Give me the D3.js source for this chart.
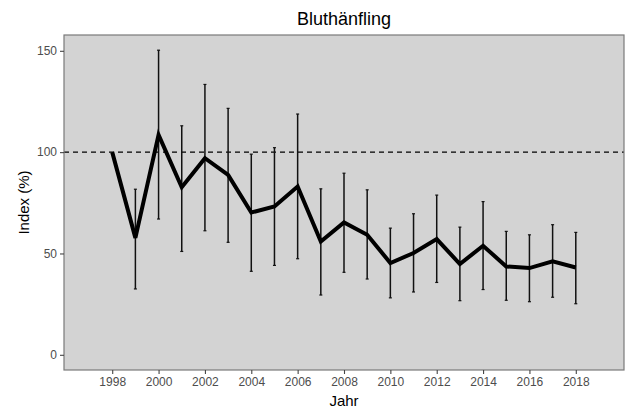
<!DOCTYPE html>
<html>
<head>
<meta charset="utf-8">
<script src="https://cdn.jsdelivr.net/npm/d3@7"></script>
<style>
  html, body { margin: 0; padding: 0; background: #fff; }
  svg { display: block; font-family: Arial, "Liberation Sans", sans-serif; }
</style>
</head>
<body>
<svg id="chart" width="629" height="414"></svg>
<script>
// Annual population index of the common linnet, with confidence limits
const years = [1998, 1999, 2000, 2001, 2002, 2003, 2004, 2005, 2006, 2007, 2008,
               2009, 2010, 2011, 2012, 2013, 2014, 2015, 2016, 2017, 2018];
const indexValues = [100, 57.7, 108.5, 82.7, 97.0, 88.8, 70.2, 73.2, 83.0, 55.9, 65.3,
                     59.2, 45.3, 50.2, 57.1, 44.8, 53.8, 43.6, 42.8, 46.1, 43.1];
const upperLimits = [null, 81.7, 150.3, 113.0, 133.4, 121.6, 99.0, 102.2, 118.8, 81.9, 89.6,
                     81.4, 62.5, 69.6, 78.8, 63.0, 75.6, 60.9, 59.2, 64.2, 60.4];
const lowerLimits = [null, 32.5, 67.0, 51.0, 61.2, 55.5, 41.2, 44.1, 47.4, 29.5, 40.7,
                     37.4, 28.1, 31.0, 35.7, 26.7, 32.2, 26.9, 26.2, 28.4, 25.2];
const xTicks = [1998, 2000, 2002, 2004, 2006, 2008, 2010, 2012, 2014, 2016, 2018];
const yTicks = [0, 50, 100, 150];
const referenceLevel = 100;

const svg = d3.select("#chart");
const panel = { left: 64, right: 624, top: 35, bottom: 370 };

const x = d3.scaleLinear().domain([1995.92, 2020.08]).range([panel.left, panel.right]);
const y = d3.scaleLinear().domain([-7.5, 157.8]).range([panel.bottom, panel.top]);

// Panel background
svg.append("rect")
  .attr("x", panel.left).attr("y", panel.top)
  .attr("width", panel.right - panel.left).attr("height", panel.bottom - panel.top)
  .attr("fill", "#d3d3d3");

// Reference line at 100 %
svg.append("line")
  .attr("x1", panel.left).attr("x2", panel.right)
  .attr("y1", y(referenceLevel)).attr("y2", y(referenceLevel))
  .attr("stroke", "#000").attr("stroke-width", 1.3)
  .attr("stroke-dasharray", "5,4");

const rows = years.map((yr, i) => ({ year: yr, value: indexValues[i], hi: upperLimits[i], lo: lowerLimits[i] }));

// Error bars
svg.append("g").selectAll("line")
  .data(rows.filter(d => d.hi != null))
  .join("line")
  .attr("x1", d => x(d.year)).attr("x2", d => x(d.year))
  .attr("y1", d => y(d.lo)).attr("y2", d => y(d.hi))
  .attr("stroke", "#111").attr("stroke-width", 1.5);

// Tiny caps on the error bars
const caps = rows.filter(d => d.hi != null).flatMap(d => [{ year: d.year, v: d.hi }, { year: d.year, v: d.lo }]);
svg.append("g").selectAll("line")
  .data(caps)
  .join("line")
  .attr("x1", d => x(d.year) - 1.5).attr("x2", d => x(d.year) + 1.5)
  .attr("y1", d => y(d.v)).attr("y2", d => y(d.v))
  .attr("stroke", "#111").attr("stroke-width", 1.2);

// Index line
svg.append("path")
  .datum(rows)
  .attr("fill", "none")
  .attr("stroke", "#000")
  .attr("stroke-width", 4)
  .attr("stroke-linejoin", "miter")
  .attr("d", d3.line().x(d => x(d.year)).y(d => y(d.value)));

// Panel border
svg.append("rect")
  .attr("x", panel.left).attr("y", panel.top)
  .attr("width", panel.right - panel.left).attr("height", panel.bottom - panel.top)
  .attr("fill", "none").attr("stroke", "#7a7a7a").attr("stroke-width", 1.2);

// Axes
const xAxis = svg.append("g")
  .attr("transform", `translate(0,${panel.bottom})`)
  .call(d3.axisBottom(x).tickValues(xTicks).tickFormat(d3.format("d")).tickSize(4).tickPadding(3));
const yAxis = svg.append("g")
  .attr("transform", `translate(${panel.left},0)`)
  .call(d3.axisLeft(y).tickValues(yTicks).tickSize(4).tickPadding(3));

[xAxis, yAxis].forEach(g => {
  g.select(".domain").remove();
  g.selectAll(".tick line").attr("stroke", "#444").attr("stroke-width", 1.1);
  g.selectAll(".tick text").attr("fill", "#4d4d4d").style("font-size", "12px")
    .style("font-family", "Arial, 'Liberation Sans', sans-serif");
});

// Titles
svg.append("text")
  .attr("x", (panel.left + panel.right) / 2).attr("y", 25)
  .attr("text-anchor", "middle")
  .style("font-size", "18px").attr("fill", "#000")
  .text("Bluthänfling");

svg.append("text")
  .attr("x", (panel.left + panel.right) / 2).attr("y", 406)
  .attr("text-anchor", "middle")
  .style("font-size", "15px").attr("fill", "#000")
  .text("Jahr");

svg.append("text")
  .attr("transform", `translate(29,${(panel.top + panel.bottom) / 2}) rotate(-90)`)
  .attr("text-anchor", "middle")
  .style("font-size", "15px").attr("fill", "#000")
  .text("Index (%)");
</script>
</body>
</html>
